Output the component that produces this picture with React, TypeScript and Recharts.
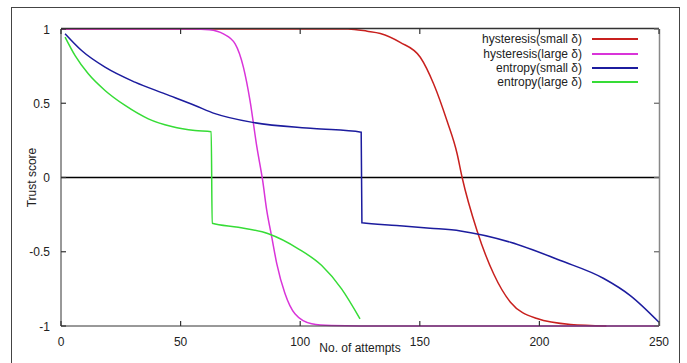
import React from 'react';
import { LineChart, Line, XAxis, YAxis, ReferenceLine, Legend } from 'recharts';

const xTicks = [0, 50, 100, 150, 200, 250];
const yTicks = [-1, -0.5, 0, 0.5, 1];

const seriesNames = ['hysteresis(small δ)', 'hysteresis(large δ)', 'entropy(small δ)', 'entropy(large δ)'];
const seriesColors = ['#c8201e', '#d934d9', '#1c1c9e', '#36dc36'];

const hysteresisSmall = [
  { x: 0, y: 1 }, { x: 60, y: 1 }, { x: 120, y: 1 }, { x: 128, y: 0.985 }, { x: 133.5, y: 0.97 },
  { x: 141.8, y: 0.91 }, { x: 150.2, y: 0.81 }, { x: 155.8, y: 0.63 }, { x: 161.4, y: 0.38 },
  { x: 165.6, y: 0.16 }, { x: 167.7, y: 0 }, { x: 173.9, y: -0.357 }, { x: 180.9, y: -0.65 },
  { x: 187.9, y: -0.84 }, { x: 199, y: -0.95 }, { x: 213, y: -0.99 }, { x: 228, y: -1 },
];

const hysteresisLarge = [
  { x: 0, y: 1 }, { x: 55, y: 1 }, { x: 62, y: 0.995 }, { x: 67.9, y: 0.967 }, { x: 72.8, y: 0.9 },
  { x: 76.3, y: 0.74 }, { x: 79, y: 0.52 }, { x: 81.9, y: 0.204 }, { x: 84.3, y: -0.02 },
  { x: 86, y: -0.22 }, { x: 88.1, y: -0.4 }, { x: 90.2, y: -0.58 }, { x: 93.6, y: -0.78 },
  { x: 97.8, y: -0.918 }, { x: 104.8, y: -0.985 }, { x: 113, y: -0.997 }, { x: 125, y: -1 },
  { x: 250, y: -1 },
];

const entropySmall = [
  { x: 1.7, y: 0.968 }, { x: 8.6, y: 0.855 }, { x: 18.4, y: 0.743 }, { x: 30.9, y: 0.642 },
  { x: 43.5, y: 0.563 }, { x: 56, y: 0.485 }, { x: 64.4, y: 0.43 }, { x: 80.5, y: 0.37 },
  { x: 105.6, y: 0.33 }, { x: 125.5, y: 0.305 }, { x: 125.8, y: -0.305 }, { x: 140.3, y: -0.323 },
  { x: 154.3, y: -0.341 }, { x: 167, y: -0.36 }, { x: 187.9, y: -0.436 }, { x: 208.8, y: -0.559 },
  { x: 226.9, y: -0.68 }, { x: 238, y: -0.795 }, { x: 250, y: -0.975 },
];

const entropyLarge = [
  { x: 1.7, y: 0.945 }, { x: 5.9, y: 0.82 }, { x: 11.4, y: 0.698 }, { x: 18.4, y: 0.586 },
  { x: 26.8, y: 0.485 }, { x: 36.5, y: 0.395 }, { x: 46.3, y: 0.343 }, { x: 56, y: 0.316 },
  { x: 62.8, y: 0.308 }, { x: 63.2, y: -0.308 }, { x: 74.1, y: -0.335 }, { x: 86.7, y: -0.379 },
  { x: 99.2, y: -0.48 }, { x: 109, y: -0.593 }, { x: 117.3, y: -0.75 }, { x: 125, y: -0.952 },
];

const seriesData = [hysteresisSmall, hysteresisLarge, entropySmall, entropyLarge];

const FONT = '"Liberation Sans", Arial, sans-serif';
const TICK_LEN = 5;
const X_MIN = 0;
const X_MAX = 250;
const Y_MIN = -1;
const Y_MAX = 1;

// plot box in pixels (chart margins + axis sizes)
const PLOT = { left: 61, top: 29, right: 659, bottom: 326 };

const makeTick = (side: 'bottom' | 'left') => (props: any) => {
  const { x, y, payload } = props;
  if (side === 'bottom') {
    return (
      <text x={x} y={y + 20} textAnchor="middle" fontSize={12} fill="#222" fontFamily={FONT}>
        {payload.value}
      </text>
    );
  }
  return (
    <text x={x - 11} y={y + 4.5} textAnchor="end" fontSize={12} fill="#222" fontFamily={FONT}>
      {payload.value}
    </text>
  );
};

const XLabel = (props: any) => {
  const vb = props.viewBox || { x: 61, y: 326, width: 598, height: 30 };
  return (
    <text x={vb.x + vb.width / 2} y={vb.y + 26} textAnchor="middle" fontSize={12} fill="#222" fontFamily={FONT}>
      No. of attempts
    </text>
  );
};

const YLabel = (props: any) => {
  const vb = props.viewBox || { x: 11, y: 29, width: 50, height: 297 };
  const cx = vb.x + 21;
  const cy = vb.y + vb.height / 2;
  return (
    <text x={cx} y={cy} transform={`rotate(-90 ${cx} ${cy})`} textAnchor="middle" dominantBaseline="central" fontSize={12} fill="#222" fontFamily={FONT}>
      Trust score
    </text>
  );
};

const renderLegend = () => {
  return (
    <div style={{ fontFamily: FONT, fontSize: 12, color: '#222' }}>
      {seriesNames.map((name, i) => (
        <div key={name} style={{ display: 'flex', justifyContent: 'flex-end', alignItems: 'center', height: 14.4 }}>
          <span style={{ whiteSpace: 'nowrap' }}>{name}</span>
          <span style={{ display: 'inline-block', width: 46, height: 0, borderTop: `2px solid ${seriesColors[i]}`, marginLeft: 10 }} />
        </div>
      ))}
    </div>
  );
};

// Mirrored border and inward tick marks, laid over the chart from the axis ranges
const Frame = () => {
  const w = PLOT.right - PLOT.left;
  const h = PLOT.bottom - PLOT.top;
  const sx = (v: number) => PLOT.left + ((v - X_MIN) / (X_MAX - X_MIN)) * w;
  const sy = (v: number) => PLOT.bottom - ((v - Y_MIN) / (Y_MAX - Y_MIN)) * h;
  return (
    <svg width={687} height={363} style={{ position: 'absolute', left: 0, top: 0, pointerEvents: 'none', zIndex: 2 }}>
      <path d={`M${PLOT.left},${PLOT.top - 0.5}H${PLOT.right}`} stroke="#333" strokeWidth={1.5} fill="none" />
      <path d={`M${PLOT.right + 0.5},${PLOT.top}V${PLOT.bottom}`} stroke="#888" strokeWidth={1.5} fill="none" />
      {xTicks.map((t) => (
        <g key={`xt${t}`}>
          <path d={`M${sx(t)},${PLOT.bottom}V${PLOT.bottom - TICK_LEN}`} stroke="#333" strokeWidth={1.2} fill="none" />
          <path d={`M${sx(t)},${PLOT.top}V${PLOT.top + TICK_LEN}`} stroke="#333" strokeWidth={1.2} fill="none" />
        </g>
      ))}
      {yTicks.map((t) => (
        <g key={`yt${t}`}>
          <path d={`M${PLOT.left},${sy(t)}H${PLOT.left + TICK_LEN}`} stroke="#333" strokeWidth={1.2} fill="none" />
          <path d={`M${PLOT.right},${sy(t)}H${PLOT.right - TICK_LEN}`} stroke="#666" strokeWidth={1.2} fill="none" />
        </g>
      ))}
    </svg>
  );
};

export default function App() {
  return (
    <div style={{ position: 'absolute', left: 0, top: 0, width: 687, height: 363, background: '#fff', overflow: 'hidden' }}>
      <div style={{ position: 'absolute', left: 11, top: 7, width: 669, height: 400, border: '1px solid #444', boxSizing: 'border-box' }} />
      <LineChart
        width={687}
        height={363}
        margin={{ top: PLOT.top, right: 687 - PLOT.right, bottom: 7, left: 11 }}
        style={{ fontFamily: FONT, position: 'absolute', left: 0, top: 0 }}
      >
        <XAxis
          dataKey="x"
          type="number"
          domain={[X_MIN, X_MAX]}
          ticks={xTicks}
          height={30}
          tickSize={0}
          tickMargin={0}
          tickLine={false}
          stroke="#333"
          tick={makeTick('bottom')}
          label={{ content: XLabel }}
        />
        <YAxis
          type="number"
          domain={[Y_MIN, Y_MAX]}
          ticks={yTicks}
          width={50}
          tickSize={0}
          tickMargin={0}
          tickLine={false}
          stroke="#333"
          tick={makeTick('left')}
          label={{ content: YLabel }}
        />
        <ReferenceLine y={0} stroke="#000" strokeWidth={1.5} />
        {seriesData.map((d, i) => (
          <Line
            key={seriesNames[i]}
            data={d}
            dataKey="y"
            name={seriesNames[i]}
            type="monotone"
            stroke={seriesColors[i]}
            strokeWidth={1.5}
            dot={false}
            activeDot={false}
            isAnimationActive={false}
          />
        ))}
        <Legend
          layout="vertical"
          align="center"
          verticalAlign="middle"
          content={renderLegend}
          wrapperStyle={{ top: 32, left: 420, width: 218 }}
        />
      </LineChart>
      <Frame />
    </div>
  );
}
